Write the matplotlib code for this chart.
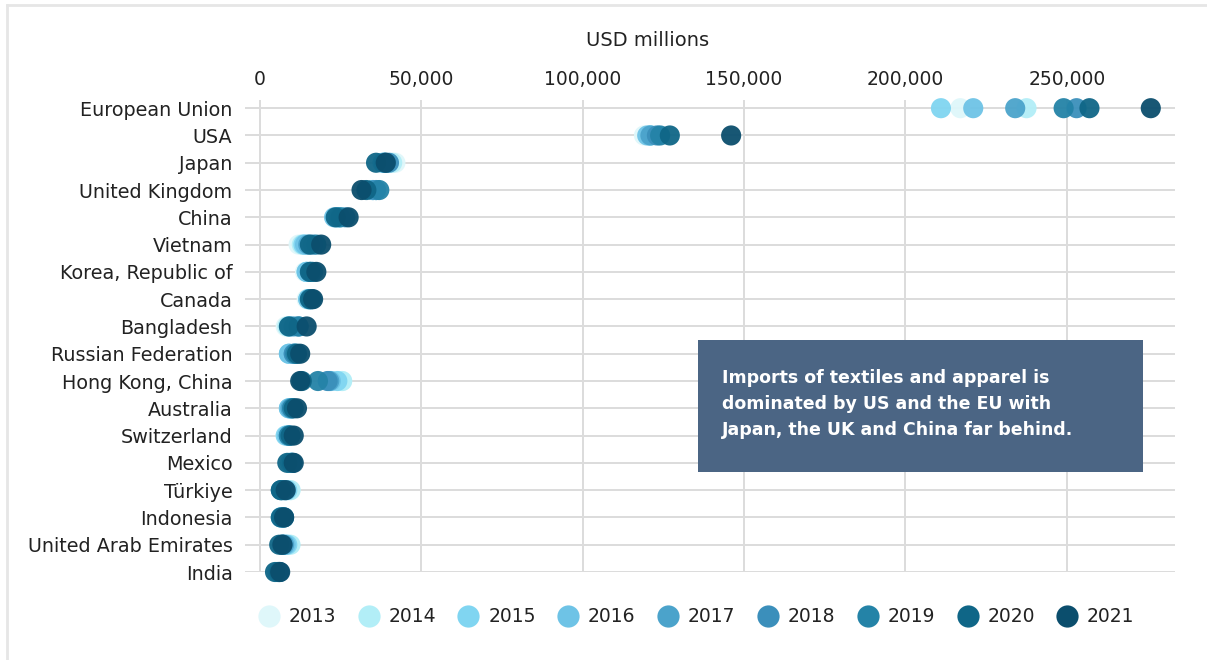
import matplotlib
matplotlib.use("Agg")
import matplotlib.pyplot as plt
from matplotlib.patches import Rectangle
from matplotlib.lines import Line2D

countries = ["European Union", "USA", "Japan", "United Kingdom", "China", "Vietnam",
             "Korea, Republic of", "Canada", "Bangladesh", "Russian Federation",
             "Hong Kong, China", "Australia", "Switzerland", "Mexico", "Türkiye",
             "Indonesia", "United Arab Emirates", "India"]

years = ["2013", "2014", "2015", "2016", "2017", "2018", "2019", "2020", "2021"]

y2013 = [217000, 119000, 42000, 35000, 24000, 12000, 14000, 14500, 8000, 12000, 25500, 9000, 8000, 9500, 9500, 7000, 9000, 5500]
y2014 = [237500, 121000, 41000, 36000, 25000, 13000, 14500, 15000, 8500, 11000, 25500, 9500, 8500, 9500, 9500, 7000, 9500, 5500]
y2015 = [211000, 121000, 38500, 36000, 24000, 13500, 14500, 15000, 9000, 9000, 24000, 9000, 8000, 9500, 8500, 6500, 8500, 5500]
y2016 = [221000, 120000, 38000, 35000, 23000, 14000, 14500, 15000, 9500, 9000, 22000, 9000, 8500, 9500, 8000, 6500, 8000, 5500]
y2017 = [234000, 121000, 38500, 35000, 24500, 15000, 15500, 15500, 10500, 10500, 21500, 9500, 9000, 10000, 7500, 7000, 7500, 6000]
y2018 = [253000, 123000, 40000, 36000, 26500, 16500, 16500, 16000, 12000, 10500, 21000, 10000, 9000, 10000, 7000, 7500, 7000, 6000]
y2019 = [249000, 124000, 39000, 37000, 25000, 17500, 16000, 16000, 12000, 11000, 18000, 10000, 9000, 10000, 6500, 7500, 7000, 6000]
y2020 = [257000, 127000, 36000, 33000, 23500, 15500, 15500, 15500, 9000, 11500, 13000, 10500, 9500, 8500, 6500, 6500, 6000, 4700]
y2021 = [276000, 146000, 39000, 31500, 27500, 19000, 17500, 16500, 14500, 12500, 12500, 11500, 10500, 10500, 8000, 7500, 7000, 6300]

colors = ["#dff7fa", "#b2eef7", "#80d5f1", "#6ec3e6", "#4ba3cb",
          "#3b8fbb", "#2483a7", "#0f6687", "#0b4e6d"]

series = [y2013, y2014, y2015, y2016, y2017, y2018, y2019, y2020, y2021]

plt.rcParams['font.family'] = ['DejaVu Sans']
TXT = "#222222"

fig = plt.figure(figsize=(12.07, 6.6), dpi=100)
ax = fig.add_axes([245 / 1207, 1 - 572 / 660, 930 / 1207, 472 / 660])

ypos = list(range(len(countries)))
for yr, vals, col in zip(years, series, colors):
    ax.scatter(vals, ypos, s=210, color=col, edgecolors='none', alpha=0.95,
               zorder=3, clip_on=False, label=yr)

ax.set_xlim(-4600, 283500)
ax.set_ylim(len(countries) - 1, -0.3)
ax.set_yticks(ypos)
ax.set_yticklabels(countries, fontsize=13.8, color=TXT)
ax.set_xticks([0, 50000, 100000, 150000, 200000, 250000])
ax.set_xticklabels(["0", "50,000", "100,000", "150,000", "200,000", "250,000"],
                   fontsize=13.5, color=TXT)
ax.xaxis.tick_top()
ax.tick_params(axis='x', length=0, pad=8)
ax.tick_params(axis='y', length=0, pad=9)
ax.grid(True, color="#dcdcdc", linewidth=1.4, zorder=0)
ax.set_axisbelow(True)
for s in ax.spines.values():
    s.set_visible(False)

fig.text(648 / 1207, 1 - 40 / 660, "USD millions", fontsize=14, color=TXT,
         ha='center', va='center')

# annotation box
fig.patches.append(Rectangle((698 / 1207, 1 - 472 / 660), 445 / 1207, 132 / 660,
                             transform=fig.transFigure, facecolor="#4b6584",
                             edgecolor='none', zorder=5))
fig.text(722 / 1207, 1 - 404 / 660,
         "Imports of textiles and apparel is\ndominated by US and the EU with\nJapan, the UK and China far behind.",
         fontsize=12.5, color="white", fontweight='semibold', ha='left', va='center',
         linespacing=1.55, zorder=6)

# legend
leg_handles = [Line2D([0], [0], marker='o', linestyle='none', markersize=16,
                      markerfacecolor=c, markeredgecolor='none') for c in colors]
fig.legend(leg_handles, years, loc='center', bbox_to_anchor=(696 / 1207, 1 - 617 / 660),
           ncol=9, frameon=False, fontsize=13.5, handletextpad=0.45,
           columnspacing=1.14, handlelength=1.2, labelcolor=TXT)

# faint frame
fig.add_artist(Line2D([7 / 1207, 7 / 1207], [0, 1 - 5 / 660], transform=fig.transFigure,
                      color="#e6e6e6", linewidth=2))
fig.add_artist(Line2D([7 / 1207, 1], [1 - 5 / 660, 1 - 5 / 660], transform=fig.transFigure,
                      color="#e6e6e6", linewidth=2))

fig.savefig("out.png", dpi=100)
